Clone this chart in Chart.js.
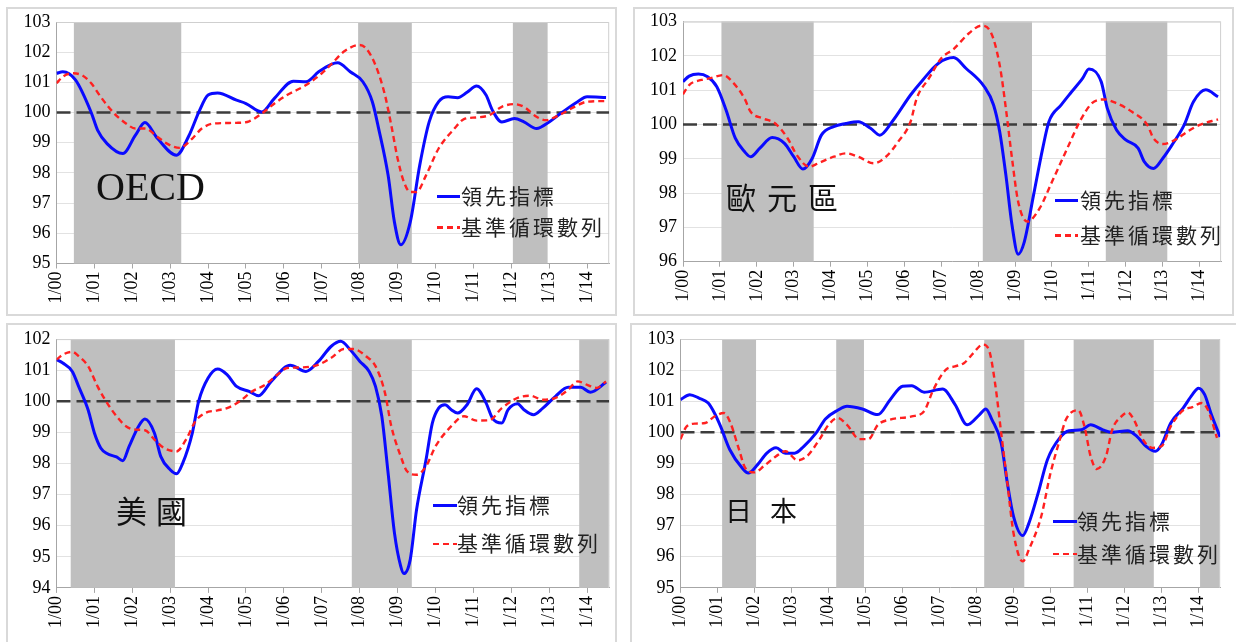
<!DOCTYPE html>
<html><head><meta charset="utf-8">
<script src="https://cdn.jsdelivr.net/npm/chart.js@4.4.1/dist/chart.umd.min.js"></script>
<style>
html,body{margin:0;padding:0;background:#fff;width:1236px;height:642px;overflow:hidden;position:relative;}
.frame{position:absolute;border:2px solid #d9d9d9;box-sizing:border-box;}
canvas{position:absolute;}
.title{position:absolute;color:#111;white-space:nowrap;}
.leg{position:absolute;font-family:"Noto Sans CJK TC";font-size:21px;line-height:21px;letter-spacing:3px;color:#222;white-space:nowrap;}
.sw{position:absolute;}
</style></head><body>
<div class="frame" style="left:6px;top:7px;width:611px;height:309px"></div>
<div class="frame" style="left:633px;top:7px;width:601px;height:309px"></div>
<div class="frame" style="left:6px;top:323px;width:611px;height:330px"></div>
<div class="frame" style="left:630px;top:323px;width:620px;height:330px"></div>

<canvas id="c1" width="606" height="304" style="left:8px;top:9px"></canvas>
<canvas id="c2" width="595" height="304" style="left:636px;top:9px"></canvas>
<canvas id="c3" width="606" height="315" style="left:8px;top:325px"></canvas>
<canvas id="c4" width="598" height="315" style="left:636px;top:325px"></canvas>

<div class="title" style="left:96px;top:167px;font-family:'Liberation Serif';font-size:40px;line-height:40px">OECD</div>
<div class="title" style="left:726px;top:181px;font-family:'Noto Sans CJK TC';font-size:30px;line-height:30px;letter-spacing:11px">歐元區</div>
<div class="title" style="left:116px;top:494px;font-family:'Noto Sans CJK TC';font-size:31px;line-height:31px;letter-spacing:9px">美國</div>
<div class="title" style="left:725px;top:496px;font-family:'Noto Sans CJK TC';font-size:27px;line-height:27px;letter-spacing:18px">日本</div>

<div id="legends"></div>

<script>
// ---------- data ----------
const yearLabels = ['1/00','1/01','1/02','1/03','1/04','1/05','1/06','1/07','1/08','1/09','1/10','1/11','1/12','1/13','1/14'];
const seriesNames = ['領先指標','基準循環數列'];
const refLevel = 100;

// OECD  (x = months since 1/00)
const oecdLeadMonth = [0,2,6,11,13,16,21,25,28,32,38,42,45,48,51,57,60,65,69,75,79,83,87,89,93,97,100,102,105,107,109,112,115,118,121,124,127,130,133,136,138,141,145,148,152,156,160,165,168,174];
const oecdLeadValue = [101.30,101.35,101.08,100.00,99.42,98.97,98.64,99.25,99.67,99.14,98.59,99.25,100.00,100.58,100.65,100.41,100.30,100.02,100.47,101.04,101.02,101.35,101.60,101.65,101.35,101.02,100.36,99.47,97.92,96.37,95.62,96.37,98.25,99.69,100.36,100.52,100.49,100.67,100.88,100.58,100.08,99.69,99.80,99.69,99.47,99.69,100.00,100.36,100.52,100.50];
const oecdRefMonth = [0,2,5,8,11,14,18,22,25,28,32,35,39,43,46,50,57,61,65,69,73,79,84,87,91,96,98,101,104,106,108,110,112,114,117,121,126,129,133,137,141,145,148,152,155,159,164,168,174];
const oecdRefValue = [100.97,101.19,101.30,101.24,100.97,100.52,100.00,99.64,99.47,99.47,99.19,98.97,98.83,99.14,99.47,99.64,99.66,99.71,99.97,100.30,100.58,100.91,101.30,101.60,102.02,102.24,102.13,101.57,100.58,99.58,98.48,97.70,97.37,97.37,97.92,98.81,99.47,99.78,99.84,99.91,100.19,100.28,100.19,99.86,99.75,99.91,100.19,100.36,100.38];
const oecdRecStart = [5.5,95.5,144.5];
const oecdRecEnd   = [39.5,112.5,155.5];

// 歐元區
const euroLeadMonth = [0,2,5,8,11,14,17,20,22,25,29,33,36,39,42,45,49,53,57,61,64,68,74,78,83,88,92,98,101,103,105,107,109,111,114,117,119,123,126,130,132,136,138,141,144,148,150,153,156,159,163,166,170,174];
const euroLeadValue = [101.25,101.41,101.47,101.39,101.10,100.42,99.60,99.21,99.06,99.31,99.62,99.45,99.06,98.70,99.01,99.69,99.94,100.03,100.08,99.89,99.69,100.08,100.86,101.30,101.78,101.95,101.64,101.10,100.57,99.79,98.53,97.07,96.22,96.58,97.94,99.31,100.08,100.57,100.91,101.35,101.62,101.25,100.47,99.84,99.55,99.31,98.92,98.72,99.01,99.40,99.99,100.66,101.01,100.81];
const euroRefMonth = [0,2,6,9,13,16,20,22,26,30,34,37,41,44,49,53,57,62,66,70,74,76,80,84,88,93,97,100,103,105,107,109,112,116,120,125,129,133,137,141,146,151,153,156,160,164,168,174];
const euroRefValue = [100.88,101.15,101.30,101.35,101.44,101.25,100.76,100.37,100.18,100.03,99.60,99.11,98.77,98.87,99.06,99.16,99.06,98.87,99.06,99.50,100.08,100.76,101.35,101.93,102.20,102.66,102.88,102.71,101.73,100.47,99.01,97.75,97.17,97.56,98.33,99.31,100.08,100.62,100.73,100.62,100.37,99.99,99.60,99.43,99.55,99.79,99.99,100.15];
const euroRecStart = [12.5,97.5,137.5];
const euroRecEnd   = [42.5,113.5,157.5];

// 美國
const usLeadMonth = [0,2,5,7,10,12,14,16,19,21,23,26,28,31,33,36,38,40,43,45,48,51,54,57,61,64,68,74,79,83,87,90,93,96,99,101,103,105,107,109,110,112,114,117,119,121,123,125,127,130,133,136,138,141,143,146,148,151,154,158,162,166,169,174];
const usLeadValue = [101.34,101.23,100.96,100.48,99.73,98.98,98.50,98.32,98.21,98.09,98.55,99.20,99.43,98.98,98.23,97.80,97.67,98.02,98.98,100.00,100.75,101.04,100.86,100.48,100.32,100.18,100.64,101.16,100.96,101.29,101.77,101.93,101.66,101.29,100.96,100.48,99.52,97.69,95.77,94.69,94.46,94.91,96.51,98.12,99.30,99.78,99.89,99.73,99.62,99.89,100.40,99.95,99.46,99.30,99.73,99.92,99.73,99.57,99.78,100.16,100.45,100.45,100.29,100.61];
const usRefMonth = [0,2,5,7,10,13,16,19,22,25,28,31,34,38,41,44,47,51,54,58,62,66,70,73,78,83,87,91,94,98,101,104,106,109,111,114,117,120,125,129,133,137,141,146,150,154,158,162,165,168,171,174];
const usRefValue = [101.34,101.50,101.59,101.45,101.13,100.48,99.95,99.52,99.20,99.09,99.07,98.77,98.50,98.39,98.77,99.36,99.62,99.71,99.78,100.00,100.32,100.53,100.86,101.07,101.09,101.18,101.40,101.68,101.68,101.45,101.13,100.27,99.20,98.23,97.75,97.64,97.91,98.55,99.20,99.52,99.38,99.39,99.78,100.11,100.18,100.05,100.11,100.37,100.64,100.53,100.43,100.64];
const usRecStart = [4.5,93.5,165.5];
const usRecEnd   = [37.5,112.5,175];

// 日本
const jpLeadMonth = [0,3,6,9,11,13,16,20,22,25,28,31,34,37,40,44,47,51,54,59,64,68,72,75,79,85,89,93,97,99,101,104,106,108,111,113,116,119,123,126,130,133,137,140,145,148,151,154,156,159,163,166,168,170,172,175];
const jpLeadValue = [101.05,101.21,101.10,100.94,100.62,100.19,99.44,98.85,98.69,98.96,99.33,99.50,99.33,99.33,99.55,99.98,100.43,100.71,100.84,100.75,100.57,101.05,101.48,101.50,101.29,101.39,100.90,100.24,100.57,100.75,100.41,99.66,98.37,97.30,96.68,97.08,98.05,99.12,99.82,100.05,100.08,100.24,100.08,100.00,100.05,99.87,99.55,99.39,99.60,100.30,100.78,101.21,101.42,101.21,100.62,99.85];
const jpRefMonth = [0,2,5,8,11,14,16,19,21,24,27,31,34,38,41,45,48,51,54,58,61,64,68,75,79,82,86,89,92,95,98,100,102,104,106,108,111,113,117,120,123,125,129,131,133,135,138,140,143,145,147,150,153,156,159,163,166,169,171,174];
const jpRefValue = [99.78,100.19,100.28,100.30,100.51,100.62,100.35,99.44,98.85,98.71,98.91,99.23,99.39,99.10,99.23,99.76,100.24,100.46,100.24,99.78,99.78,100.24,100.41,100.51,100.68,101.37,102.01,102.12,102.23,102.55,102.82,102.66,101.59,99.98,98.37,96.76,95.85,96.23,97.30,98.69,99.76,100.41,100.71,100.19,99.23,98.82,99.23,100.08,100.51,100.64,100.41,99.76,99.50,99.55,100.19,100.71,100.81,100.94,100.73,99.82];
const jpRecStart = [13.5,50.5,98.5,127.5,168.5];
const jpRecEnd   = [24.5,59.5,111.5,153.5,175];

// ---------- drawing ----------
const X_MAX = 175;
function pts(m, v){ return m.map((x,i)=>({x:x, y:v[i]})); }

const bandPlugin = {
  id:'bands',
  beforeDatasetsDraw(chart, args, opts){
    const ctx = chart.ctx, a = chart.chartArea, xs = chart.scales.x;
    ctx.save();
    ctx.fillStyle = '#bfbfbf';
    opts.start.forEach((s,i)=>{
      const x0 = Math.max(a.left, xs.getPixelForValue(s));
      const x1 = Math.min(a.right, xs.getPixelForValue(opts.end[i]));
      ctx.fillRect(x0, a.top, x1-x0, a.bottom-a.top);
    });
    ctx.strokeStyle = '#cfcfcf'; ctx.lineWidth = 1;
    ctx.beginPath();
    ctx.moveTo(a.left, a.top+0.5); ctx.lineTo(a.right-0.5, a.top+0.5); ctx.lineTo(a.right-0.5, a.bottom);
    ctx.stroke();
    ctx.restore();
  }
};

function makeChart(id, cv, area, yMin, yMax, leadM, leadV, refM, refV, recS, recE){
  const padTop = area.top - cv.top;
  const padRight = (cv.left + cv.w) - area.right;
  const yW = area.left - cv.left;
  const xH = (cv.top + cv.h) - area.bottom;
  new Chart(document.getElementById(id), {
    type:'line',
    data:{ datasets:[
      { label:seriesNames[0], data:pts(leadM, leadV), borderColor:'#0a0aff', borderWidth:3, pointRadius:0, cubicInterpolationMode:'monotone', order:2 },
      { label:seriesNames[1], data:pts(refM, refV), borderColor:'#ff2020', borderWidth:2.4, borderDash:[6,4], pointRadius:0, cubicInterpolationMode:'monotone', order:1 },
      { label:'base', data:[{x:0,y:refLevel},{x:X_MAX,y:refLevel}], borderColor:'#3c3c3c', borderWidth:2.6, borderDash:[14,6], pointRadius:0, order:3 }
    ]},
    options:{
      responsive:false, animation:false, events:[],
      layout:{ padding:{ top:padTop, right:padRight, left:0, bottom:0 } },
      plugins:{ legend:{display:false}, tooltip:{enabled:false}, bands:{ start:recS, end:recE } },
      scales:{
        x:{ type:'linear', min:0, max:X_MAX,
            afterFit(s){ s.height = xH; s.paddingLeft = 0; s.paddingRight = 0; },
            grid:{ drawOnChartArea:false, drawTicks:true, tickLength:5, color:'#a6a6a6' },
            border:{ color:'#a6a6a6', width:1 },
            ticks:{ stepSize:12, includeBounds:false, autoSkip:false, minRotation:90, maxRotation:90, padding:3,
                    color:'#000', font:{ family:'Liberation Serif', size:18 },
                    callback:(v)=> (v % 12 === 0 && yearLabels[v/12]) ? yearLabels[v/12] : '' } },
        y:{ min:yMin, max:yMax,
            afterFit(s){ s.width = yW; s.paddingTop = 0; s.paddingBottom = 0; },
            grid:{ color:'#e2e2e2', drawTicks:false },
            border:{ color:'#a6a6a6', width:1 },
            ticks:{ stepSize:1, padding:6, color:'#000', font:{ family:'Liberation Serif', size:18 } } }
      }
    },
    plugins:[bandPlugin]
  });
}

makeChart('c1', {left:8,top:9,w:606,h:304}, {left:56.5,top:22,right:609.2,bottom:263.5}, 95, 103, oecdLeadMonth, oecdLeadValue, oecdRefMonth, oecdRefValue, oecdRecStart, oecdRecEnd);
makeChart('c2', {left:636,top:9,w:595,h:304}, {left:683,top:21.6,right:1221.1,bottom:261.7}, 96, 103, euroLeadMonth, euroLeadValue, euroRefMonth, euroRefValue, euroRecStart, euroRecEnd);
makeChart('c3', {left:8,top:325,w:606,h:315}, {left:56.5,top:339.1,right:609.2,bottom:587.9}, 94, 102, usLeadMonth, usLeadValue, usRefMonth, usRefValue, usRecStart, usRecEnd);
makeChart('c4', {left:636,top:325,w:598,h:315}, {left:680.5,top:339,right:1220.1,bottom:587.8}, 95, 103, jpLeadMonth, jpLeadValue, jpRefMonth, jpRefValue, jpRecStart, jpRecEnd);

// legends (HTML text)
const legendPos = [
  {sx:437, sw:23, tx:461, y1:196, y2:227.5},
  {sx:1055, sw:23, tx:1080, y1:200, y2:235.5},
  {sx:433, sw:24, tx:457, y1:505.7, y2:543.7},
  {sx:1053, sw:24, tx:1077, y1:521.3, y2:554}
];
const holder = document.getElementById('legends');
legendPos.forEach(p=>{
  holder.insertAdjacentHTML('beforeend',
    `<div class="sw" style="left:${p.sx}px;top:${p.y1-1.5}px;width:${p.sw}px;height:3px;background:#0a0aff"></div>`+
    `<div class="leg" style="left:${p.tx}px;top:${p.y1-11.5}px">${seriesNames[0]}</div>`+
    `<div class="sw" style="left:${p.sx}px;top:${p.y2-1.2}px;width:${p.sw}px;height:2.4px;background:repeating-linear-gradient(90deg,#ff2020 0 6px,transparent 6px 10px)"></div>`+
    `<div class="leg" style="left:${p.tx}px;top:${p.y2-11.5}px">${seriesNames[1]}</div>`);
});
</script>
</body></html>
